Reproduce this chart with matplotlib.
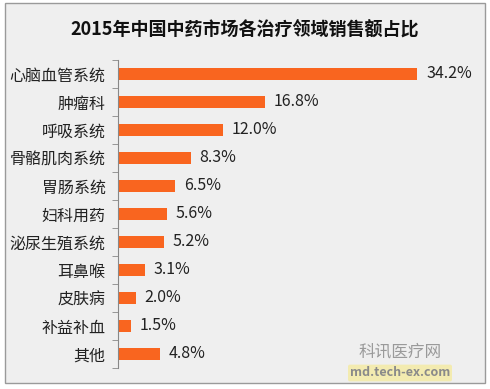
import matplotlib.pyplot as plt
from matplotlib.patches import Rectangle

plt.rcParams['font.family'] = ['Noto Sans CJK SC', 'DejaVu Sans']

# ----- Data ----- #
categories = ["心脑血管系统", "肿瘤科", "呼吸系统", "骨骼肌肉系统", "胃肠系统", "妇科用药",
              "泌尿生殖系统", "耳鼻喉", "皮肤病", "补益补血", "其他"]
shares = [34.2, 16.8, 12.0, 8.3, 6.5, 5.6, 5.2, 3.1, 2.0, 1.5, 4.8]
title = "2015年中国中药市场各治疗领域销售额占比"

bar_color = "#F9651F"
bg_color = "#EFEFEF"

# ----- Figure ----- #
fig = plt.figure(figsize=(4.9, 3.89), dpi=100, facecolor="white")

# gray panel with thin border (behind the axes)
fig.patches.append(Rectangle((5 / 490, 6 / 389), 480 / 490, 380 / 389, transform=fig.transFigure,
                             facecolor=bg_color, edgecolor="#9A9A9A", linewidth=1.0, zorder=-10))

ax = fig.add_axes([118 / 490, 21 / 389, 350 / 490, 308 / 389])
ax.set_facecolor("none")

ypos = list(range(len(categories)))
ax.barh(ypos, shares, height=0.46, color=bar_color, zorder=2)

for y, v in zip(ypos, shares):
    ax.text(v + 1.0, y, f"{v:.1f}%", va="center", ha="left", fontsize=11.5, color="#222222")

ax.set_xlim(0, 40)
ax.set_ylim(len(categories) - 0.5, -0.5)
ax.set_yticks(ypos)
ax.set_yticklabels(categories, fontsize=11.5, color="#222222")
ax.tick_params(axis="y", length=0, pad=9)
# boundary ticks on the spine
ax.set_yticks([i - 0.5 for i in range(len(categories) + 1)], minor=True)
ax.tick_params(axis="y", which="minor", length=4, color="#888888", direction="out")
ax.set_xticks([])

for side in ["top", "right", "bottom"]:
    ax.spines[side].set_visible(False)
ax.spines["left"].set_color("#888888")

fig.text(0.5, 1 - 30 / 389, title, ha="center", va="center", fontsize=13, fontweight="bold",
         color="#111111")

# watermark in the corner
fig.text(400 / 490, 1 - 352 / 389, "科讯医疗网", ha="center", va="center", fontsize=12,
         color="#9A9A9A")
fig.text(400 / 490, 1 - 373 / 389, "md.tech-ex.com", ha="center", va="center", fontsize=9,
         color="#8A8A8A", fontweight="bold",
         bbox=dict(boxstyle="round,pad=0.15", facecolor="#F3EBB0", edgecolor="none"))

fig.savefig("out.png", dpi=100, facecolor="white")
